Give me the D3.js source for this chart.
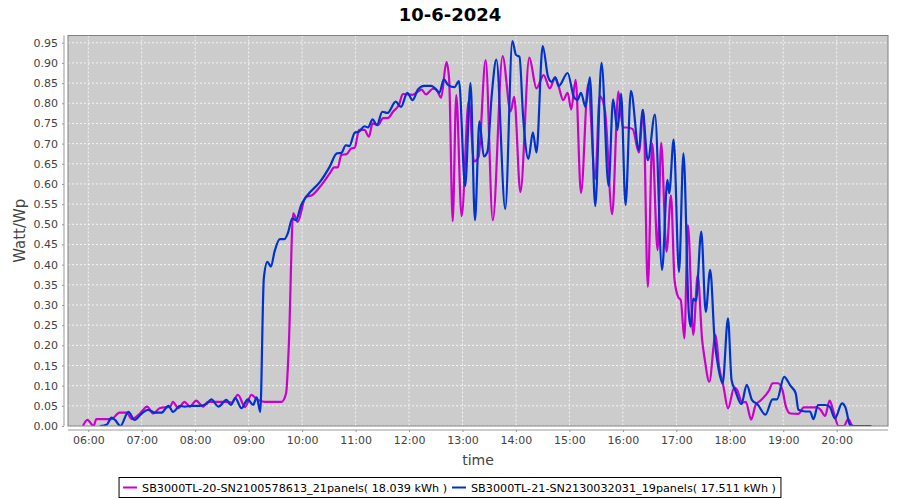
<!DOCTYPE html>
<html><head><meta charset="utf-8">
<script src="https://cdn.jsdelivr.net/npm/d3@7"></script>
<style>body{margin:0;background:#fff}</style>
</head><body>
<svg id="c" width="900" height="500"></svg>
<script>
const chartTitle = "10-6-2024";
const yLabel = "Watt/Wp";
const xLabel = "time";
const seriesNames = ["SB3000TL-20-SN2100578613_21panels( 18.039 kWh )", "SB3000TL-21-SN2130032031_19panels( 17.511 kWh )"];
const seriesColors = ["#cc00cc", "#0033cc"];

const magentaTimes = ["05:54","05:59","06:06","06:09","06:18","06:26","06:35","06:43","06:49","06:58","07:06","07:13","07:20","07:32","07:35","07:41","07:48","07:54","08:01","08:09","08:14","08:24","08:33","08:41","08:48","08:56","09:03","09:10","09:18","09:26","09:37","09:42","09:45","09:50","09:55","10:04","10:11","10:20","10:31","10:36","10:40","10:44","10:50","10:55","10:59","11:04","11:10","11:15","11:19","11:25","11:31","11:36","11:42","11:49","11:53","12:04","12:10","12:14","12:19","12:27","12:31","12:36","12:42","12:45","12:49","12:53","12:59","13:07","13:13","13:18","13:26","13:34","13:45","13:54","13:58","14:05","14:15","14:23","14:31","14:38","14:44","14:48","14:53","14:58","15:02","15:07","15:13","15:21","15:29","15:34","15:40","15:48","15:55","16:00","16:05","16:11","16:18","16:23","16:28","16:33","16:39","16:43","16:49","16:54","16:58","17:02","17:05","17:09","17:13","17:19","17:24","17:29","17:32","17:37","17:44","17:48","17:53","17:58","18:05","18:08","18:14","18:18","18:24","18:29","18:35","18:44","18:48","18:54","18:59","19:03","19:08","19:17","19:23","19:31","19:38","19:42","19:47","19:52","19:57","20:02","20:08","20:13","20:18","20:31"];
const magentaValues = [0.000,0.015,0.000,0.017,0.017,0.017,0.033,0.033,0.017,0.031,0.048,0.031,0.044,0.048,0.060,0.044,0.060,0.048,0.063,0.048,0.060,0.060,0.060,0.058,0.077,0.047,0.077,0.065,0.060,0.060,0.060,0.081,0.196,0.527,0.506,0.568,0.572,0.593,0.626,0.641,0.641,0.672,0.674,0.688,0.690,0.734,0.734,0.717,0.750,0.746,0.763,0.763,0.779,0.798,0.823,0.821,0.829,0.834,0.822,0.836,0.833,0.814,0.902,0.860,0.508,0.820,0.520,0.806,0.656,0.667,0.907,0.510,0.917,0.780,0.816,0.580,0.913,0.837,0.870,0.837,0.864,0.841,0.808,0.826,0.785,0.858,0.578,0.847,0.612,0.818,0.780,0.525,0.829,0.740,0.740,0.736,0.678,0.783,0.345,0.700,0.436,0.702,0.432,0.572,0.362,0.320,0.312,0.217,0.498,0.226,0.374,0.213,0.164,0.110,0.226,0.147,0.097,0.044,0.095,0.090,0.058,0.060,0.016,0.052,0.064,0.088,0.106,0.106,0.090,0.048,0.031,0.030,0.046,0.046,0.046,0.040,0.025,0.063,0.031,0.000,0.000,0.017,0.000,0.000];

const blueTimes = ["06:13","06:21","06:26","06:30","06:36","06:45","06:52","07:00","07:07","07:15","07:22","07:30","07:35","07:43","07:48","07:56","08:05","08:13","08:18","08:26","08:35","08:40","08:45","08:52","08:59","09:05","09:09","09:13","09:17","09:21","09:25","09:29","09:35","09:40","09:44","09:49","09:53","09:59","10:06","10:20","10:31","10:39","10:44","10:49","10:53","10:59","11:04","11:10","11:14","11:19","11:24","11:30","11:36","11:45","11:51","11:58","12:04","12:10","12:17","12:25","12:30","12:34","12:39","12:44","12:51","12:56","13:03","13:09","13:14","13:19","13:24","13:28","13:33","13:38","13:48","13:56","14:00","14:04","14:08","14:14","14:19","14:23","14:30","14:36","14:40","14:44","14:48","14:58","15:05","15:09","15:13","15:18","15:23","15:29","15:36","15:44","15:49","15:54","15:58","16:03","16:09","16:18","16:22","16:28","16:36","16:44","16:50","16:52","16:57","17:03","17:08","17:14","17:16","17:19","17:22","17:28","17:33","17:38","17:43","17:47","17:52","17:58","18:02","18:06","18:13","18:19","18:25","18:31","18:40","18:48","18:53","19:01","19:08","19:14","19:17","19:25","19:30","19:34","19:39","19:47","19:52","19:58","20:06","20:10","20:15","20:20","20:39"];
const blueValues = [0.000,0.004,0.021,0.015,0.000,0.035,0.015,0.031,0.040,0.033,0.033,0.050,0.035,0.050,0.048,0.050,0.050,0.055,0.066,0.048,0.065,0.052,0.069,0.044,0.066,0.052,0.071,0.035,0.366,0.407,0.395,0.432,0.463,0.463,0.478,0.515,0.510,0.548,0.572,0.605,0.643,0.676,0.677,0.696,0.694,0.727,0.730,0.743,0.740,0.760,0.746,0.779,0.776,0.804,0.791,0.826,0.808,0.834,0.843,0.843,0.835,0.826,0.859,0.845,0.840,0.855,0.595,0.850,0.510,0.755,0.668,0.680,0.825,0.908,0.538,0.954,0.920,0.915,0.768,0.662,0.728,0.678,0.942,0.866,0.853,0.864,0.843,0.875,0.816,0.808,0.826,0.791,0.864,0.545,0.900,0.595,0.810,0.734,0.824,0.548,0.831,0.684,0.784,0.659,0.772,0.387,0.610,0.577,0.710,0.382,0.676,0.279,0.246,0.316,0.310,0.482,0.283,0.387,0.213,0.147,0.106,0.267,0.114,0.089,0.054,0.102,0.064,0.054,0.028,0.066,0.066,0.122,0.100,0.081,0.040,0.036,0.036,0.017,0.052,0.052,0.048,0.019,0.056,0.045,0.002,0.000,0.000];

const yTicks = [0,0.05,0.10,0.15,0.20,0.25,0.30,0.35,0.40,0.45,0.50,0.55,0.60,0.65,0.70,0.75,0.80,0.85,0.90,0.95];
const xTickLabels = ["06:00","07:00","08:00","09:00","10:00","11:00","12:00","13:00","14:00","15:00","16:00","17:00","18:00","19:00","20:00"];
const xDomain = ["05:37:13","20:57:35"];
const yDomain = [0, 0.968];

const parse = s => { const p = s.split(":").map(Number); return new Date(2024,5,10,p[0],p[1],p[2]||0); };

const svg = d3.select("#c");
const font = "DejaVu Sans, Verdana, sans-serif";
const L = 68, R = 888, T = 35.5, B = 426;

const x = d3.scaleTime().domain(xDomain.map(parse)).range([L, R]);
const y = d3.scaleLinear().domain(yDomain).range([B, T]);

svg.append("rect").attr("width",900).attr("height",500).attr("fill","#fff");

// title
svg.append("text").attr("x",450).attr("y",21).attr("text-anchor","middle")
  .attr("font-family",font).attr("font-weight","bold").attr("font-size",18).attr("fill","#000").text(chartTitle);

// plot background
svg.append("rect").attr("x",L).attr("y",T).attr("width",R-L).attr("height",B-T).attr("fill","#cccccc");

// gridlines
const gy = svg.append("g");
yTicks.forEach(v => gy.append("line").attr("x1",L).attr("x2",R).attr("y1",y(v)).attr("y2",y(v))
  .attr("stroke","#fff").attr("stroke-width",0.8).attr("stroke-dasharray","2,2"));
xTickLabels.forEach(t => gy.append("line").attr("y1",T).attr("y2",B).attr("x1",x(parse(t))).attr("x2",x(parse(t)))
  .attr("stroke","#fff").attr("stroke-width",0.8).attr("stroke-dasharray","2,2"));

// series
svg.append("clipPath").attr("id","pc").append("rect").attr("x",L).attr("y",T-3).attr("width",R-L).attr("height",B-T+3);
const line = d3.line().x(d => x(d[0])).y(d => y(d[1])).curve(d3.curveMonotoneX);
const series = [
  d3.zip(magentaTimes.map(parse), magentaValues),
  d3.zip(blueTimes.map(parse), blueValues)
];
const sg = svg.append("g").attr("clip-path","url(#pc)");
series.forEach((s,i) => {
  sg.append("path").attr("d", line(s)).attr("fill","none").attr("stroke",seriesColors[i])
    .attr("stroke-width",2.2).attr("stroke-linejoin","round");
});

// plot border
svg.append("rect").attr("x",L).attr("y",T).attr("width",R-L).attr("height",B-T)
  .attr("fill","none").attr("stroke","#808080").attr("stroke-width",1);

// y axis
const yAxis = d3.axisLeft(y).tickValues(yTicks).tickFormat(d3.format(".2f")).tickSize(2).tickPadding(4);
const ya = svg.append("g").attr("transform","translate(64,0)").call(yAxis);
ya.select(".domain").attr("d", `M0,${T}V${B}`).attr("stroke","#999");
ya.selectAll(".tick line").attr("stroke","#999");
ya.selectAll("text").attr("font-family",font).attr("font-size",11).attr("fill","#444");

// x axis
const xAxis = d3.axisBottom(x).tickValues(xTickLabels.map(parse)).tickFormat(d3.timeFormat("%H:%M")).tickSize(2).tickPadding(4);
const xa = svg.append("g").attr("transform","translate(0,430)").call(xAxis);
xa.select(".domain").attr("d", `M${L},0H${R}`).attr("stroke","#999");
xa.selectAll(".tick line").attr("stroke","#999");
xa.selectAll("text").attr("font-family",font).attr("font-size",11).attr("fill","#444");

// axis labels
svg.append("text").attr("transform",`translate(25,${(T+B)/2}) rotate(-90)`).attr("text-anchor","middle")
  .attr("font-family",font).attr("font-size",15).attr("fill","#444").text(yLabel);
svg.append("text").attr("x",(L+R)/2).attr("y",465).attr("text-anchor","middle")
  .attr("font-family",font).attr("font-size",14).attr("fill","#444").text(xLabel);

// legend
const lg = svg.append("g");
const items = seriesNames.map((n,i) => {
  const g = lg.append("g");
  g.append("line").attr("x1",0).attr("x2",14).attr("y1",0).attr("y2",0).attr("stroke",seriesColors[i]).attr("stroke-width",2);
  const t = g.append("text").attr("x",19).attr("y",4).attr("font-family",font).attr("font-size",11.2).attr("fill","#000").text(n);
  return {g, w: 19 + t.node().getComputedTextLength()};
});
const gap = 5;
const total = d3.sum(items, d => d.w) + gap*(items.length-1) + 9;
let cx = 450 - total/2 + 4;
items.forEach(it => { it.g.attr("transform",`translate(${cx},487.5)`); cx += it.w + gap; });
lg.insert("rect",":first-child").attr("x",450 - total/2).attr("y",477.5).attr("width",total).attr("height",20)
  .attr("fill","#fff").attr("stroke","#000").attr("stroke-width",1);
</script>
</body></html>
